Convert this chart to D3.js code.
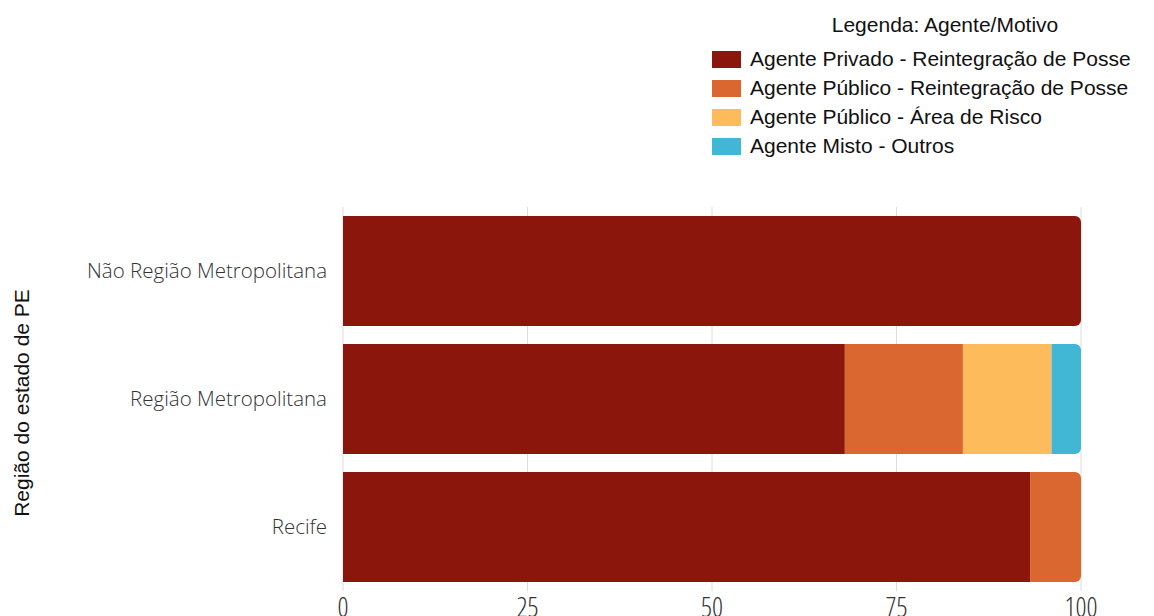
<!DOCTYPE html>
<html><head><meta charset="utf-8">
<script src="https://cdn.jsdelivr.net/npm/d3@7"></script>
<style>body{margin:0;background:#fff}svg{display:block}</style>
</head><body>
<svg id="c" width="1154" height="616"></svg>
<script>
const categories = ["Não Região Metropolitana", "Região Metropolitana", "Recife"];
const seriesNames = ["Agente Privado - Reintegração de Posse", "Agente Público - Reintegração de Posse", "Agente Público - Área de Risco", "Agente Misto - Outros"];
const seriesColors = ["#8B170C", "#DA672F", "#FDBB5B", "#42B7D5"];
const privadoReint = [100, 68, 93.1];
const publicoReint = [0, 16, 6.9];
const publicoRisco = [0, 12, 0];
const mistoOutros = [0, 4, 0];
const xTicks = [0, 25, 50, 75, 100];
const legendTitle = "Legenda: Agente/Motivo";
const yTitle = "Região do estado de PE";

const seriesVals = [privadoReint, publicoReint, publicoRisco, mistoOutros];
const svg = d3.select("#c");
const x = d3.scaleLinear().domain([0, 100]).range([343, 1081]);
const y = d3.scaleBand().domain(categories).range([207, 591]).paddingInner(18/128).paddingOuter(9/128);

// gridlines
svg.append("g").selectAll("line").data(xTicks).join("line")
  .attr("x1", d => x(d)).attr("x2", d => x(d)).attr("y1", 207).attr("y2", 591)
  .attr("stroke", "#dcdcdc").attr("stroke-width", 1);

// bars
const r = 6;
categories.forEach((cat, i) => {
  let acc = 0;
  const segs = [];
  seriesVals.forEach((vals, s) => {
    const v = vals[i];
    if (v > 0) { segs.push({s, x0: acc, x1: acc + v}); acc += v; }
  });
  segs.forEach((seg, k) => {
    const x0 = x(seg.x0), x1 = x(seg.x1), y0 = y(cat), h = y.bandwidth();
    const last = k === segs.length - 1;
    let p;
    if (last) {
      p = `M${x0},${y0}H${x1 - r}A${r},${r} 0 0 1 ${x1},${y0 + r}V${y0 + h - r}A${r},${r} 0 0 1 ${x1 - r},${y0 + h}H${x0}Z`;
    } else {
      p = `M${x0},${y0}H${x1}V${y0 + h}H${x0}Z`;
    }
    svg.append("path").attr("d", p).attr("fill", seriesColors[seg.s]);
  });
});

// y category labels
svg.append("g").selectAll("text").data(categories).join("text")
  .attr("x", 327).attr("y", d => y(d) + y.bandwidth() / 2)
  .attr("dy", "0.35em").attr("text-anchor", "end")
  .attr("font-family", "'Open Sans'").attr("font-weight", 300).attr("font-size", 20.5)
  .attr("fill", "#333").text(d => d);

// x tick labels
svg.append("g").selectAll("text").data(xTicks).join("text")
  .attr("x", d => x(d)).attr("y", 617).attr("text-anchor", "middle")
  .attr("font-family", "'Open Sans'").attr("font-weight", 300).attr("font-size", 27)
  .style("font-stretch", "75%")
  .attr("fill", "#333").text(d => d);

// y title
svg.append("text").attr("transform", "translate(28.5,403) rotate(-90)")
  .attr("text-anchor", "middle").attr("font-family", "'Liberation Sans', Arial")
  .attr("font-size", 21).attr("fill", "#111").text(yTitle);

// legend
svg.append("text").attr("x", 945).attr("y", 32).attr("text-anchor", "middle")
  .attr("font-family", "'Liberation Sans', Arial").attr("font-size", 21)
  .attr("fill", "#111").text(legendTitle);
const lg = svg.append("g").selectAll("g").data(seriesNames).join("g")
  .attr("transform", (d, i) => `translate(712,${51 + i * 29})`);
lg.append("rect").attr("width", 29).attr("height", 17).attr("fill", (d, i) => seriesColors[i]);
lg.append("text").attr("x", 38).attr("y", 15)
  .attr("font-family", "'Liberation Sans', Arial").attr("font-size", 21)
  .attr("fill", "#111").text(d => d);
</script>
</body></html>
